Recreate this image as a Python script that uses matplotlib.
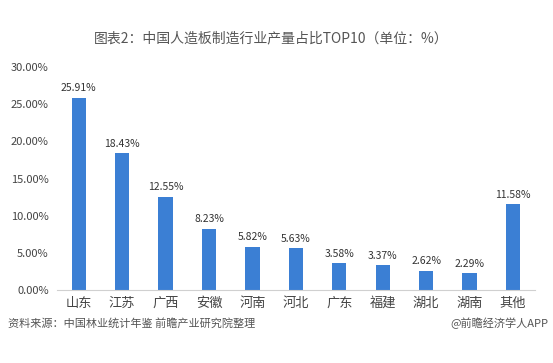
import matplotlib.pyplot as plt
from matplotlib.ticker import FuncFormatter

plt.rcParams['font.family'] = ['Noto Sans CJK SC', 'DejaVu Sans']

categories = ['山东', '江苏', '广西', '安徽', '河南', '河北', '广东', '福建', '湖北', '湖南', '其他']
values = [25.91, 18.43, 12.55, 8.23, 5.82, 5.63, 3.58, 3.37, 2.62, 2.29, 11.58]
yticks = [0, 5, 10, 15, 20, 25, 30]

fig = plt.figure(figsize=(5.53, 3.63), dpi=100)
ax = fig.add_axes([0.103, 0.201, 0.864, 0.614])

x = range(len(categories))
bars = ax.bar(x, values, width=0.33, color='#3b7fd4')
for xi, v in zip(x, values):
    ax.text(xi, v + 0.6, f'{v:.2f}%', ha='center', va='bottom', fontsize=7.5, color='#333333')

ax.set_xlim(-0.5, len(categories) - 0.5)
ax.set_ylim(0, 30)
ax.set_yticks(yticks)
ax.yaxis.set_major_formatter(FuncFormatter(lambda v, p: f'{v:.2f}%'))
ax.set_xticks(list(x))
ax.set_xticklabels(categories)
ax.tick_params(axis='y', length=0, labelsize=8, labelcolor='#444444', pad=6)
ax.tick_params(axis='x', length=0, labelsize=9.5, labelcolor='#444444', pad=5)
for side in ['top', 'right', 'left']:
    ax.spines[side].set_visible(False)
ax.spines['bottom'].set_color('#d0d0d0')

fig.text(0.49, 0.895, '图表2：中国人造板制造行业产量占比TOP10（单位：%）', ha='center', va='center',
         fontsize=10, color='#555555')
fig.text(0.015, 0.11, '资料来源：中国林业统计年鉴 前瞻产业研究院整理', ha='left', va='center',
         fontsize=8, color='#555555', style='italic')
fig.text(0.992, 0.11, '@前瞻经济学人APP', ha='right', va='center', fontsize=8, color='#555555')

fig.savefig('out.png', dpi=100)
